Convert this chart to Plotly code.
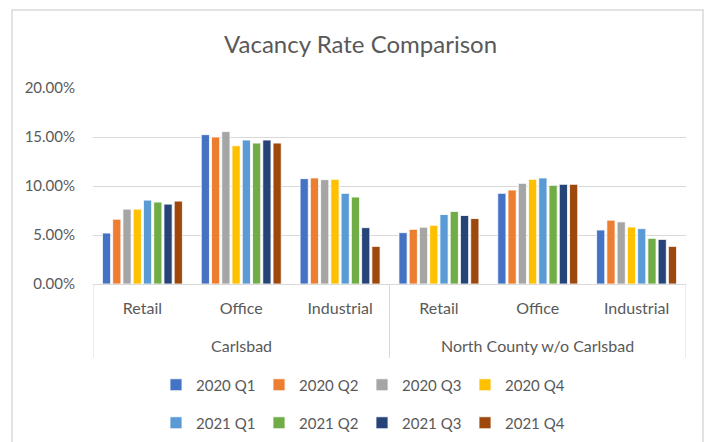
import plotly.graph_objects as go

regions = ["Carlsbad", "North County w/o Carlsbad"]
types = ["Retail", "Office", "Industrial"]
quarters = ["2020 Q1", "2020 Q2", "2020 Q3", "2020 Q4", "2021 Q1", "2021 Q2", "2021 Q3", "2021 Q4"]

# values per quarter: Carlsbad Retail, Office, Industrial, NC Retail, Office, Industrial
q2020_1 = [0.0520, 0.1524, 0.1075, 0.0524, 0.0925, 0.0551]
q2020_2 = [0.0661, 0.1500, 0.1082, 0.0558, 0.0959, 0.0651]
q2020_3 = [0.0764, 0.1555, 0.1065, 0.0579, 0.1027, 0.0634]
q2020_4 = [0.0764, 0.1411, 0.1068, 0.0599, 0.1068, 0.0582]
q2021_1 = [0.0856, 0.1469, 0.0925, 0.0709, 0.1082, 0.0565]
q2021_2 = [0.0836, 0.1438, 0.0887, 0.0740, 0.1007, 0.0466]
q2021_3 = [0.0815, 0.1469, 0.0575, 0.0699, 0.1017, 0.0455]
q2021_4 = [0.0846, 0.1438, 0.0384, 0.0668, 0.1017, 0.0384]

series = [q2020_1, q2020_2, q2020_3, q2020_4, q2021_1, q2021_2, q2021_3, q2021_4]
colors = ["#4472C4", "#ED7D31", "#A5A5A5", "#FFC000", "#5B9BD5", "#70AD47", "#264478", "#9E480E"]

inner_labels = [t for _ in regions for t in types]
xpos = list(range(len(inner_labels)))

FONT = "Lato"
TXT = "#595959"
GRID = "#d9d9d9"

fig = go.Figure()
for i, (name, vals, col) in enumerate(zip(quarters, series, colors)):
    fig.add_trace(go.Bar(x=xpos, y=vals, name=name,
                         legend="legend" if i < 4 else "legend2",
                         marker=dict(color=col, line=dict(color="white", width=0.8))))

W, H = 707, 442
L, R, T, B = 93, 21, 88, 158
pw, ph = W - L - R, H - T - B

def px_x(x):
    return (x - L) / pw

def px_y(y):
    return (H - B - y) / ph

leg_common = dict(orientation="h", xanchor="center", x=px_x(362), yanchor="middle",
                  entrywidth=58, entrywidthmode="pixels", itemwidth=30,
                  font=dict(size=15, color=TXT, family=FONT), bgcolor="rgba(0,0,0,0)")

n_per_region = len(types)
shapes = [dict(type="rect", xref="paper", yref="paper",
               x0=px_x(12), x1=px_x(703), y0=px_y(470), y1=px_y(10),
               line=dict(color=GRID, width=1.5), layer="below")]
for k in range(len(regions) + 1):
    xv = k * n_per_region - 0.5
    shapes.append(dict(type="line", xref="x", yref="paper", x0=xv, x1=xv,
                       y0=0, y1=px_y(358), line=dict(color=GRID, width=1)))

annotations = []
for k, r in enumerate(regions):
    annotations.append(dict(text=r, xref="x", yref="paper",
                            x=k * n_per_region + (n_per_region - 1) / 2,
                            y=px_y(345), yanchor="middle", showarrow=False,
                            font=dict(size=16, color=TXT, family=FONT)))

fig.update_layout(
    width=W, height=H,
    margin=dict(l=L, r=R, t=T, b=B, autoexpand=False),
    paper_bgcolor="white", plot_bgcolor="white",
    font=dict(family=FONT, color=TXT, size=15),
    title=dict(text="Vacancy Rate Comparison", x=0.51, xanchor="center",
               y=1 - 45 / H, yanchor="middle",
               font=dict(size=24, color=TXT, family=FONT)),
    barmode="group", bargap=0.17, bargroupgap=0.2,
    showlegend=True,
    legend=dict(leg_common, y=px_y(385)),
    legend2=dict(leg_common, y=px_y(423)),
    xaxis=dict(range=[-0.5, len(xpos) - 0.5], tickmode="array", tickvals=xpos,
               ticktext=inner_labels, showline=True, linecolor=GRID, linewidth=1,
               showgrid=False, zeroline=False,
               ticks="outside", ticklen=10, tickcolor="rgba(0,0,0,0)",
               tickfont=dict(size=16, color=TXT, family=FONT)),
    yaxis=dict(range=[0, 0.2], dtick=0.05, tickformat=".2%", showgrid=True,
               gridcolor=GRID, gridwidth=1, zeroline=False, showline=False,
               ticks="outside", ticklen=14, tickcolor="rgba(0,0,0,0)",
               tickfont=dict(size=15, color=TXT, family=FONT)),
    shapes=shapes,
    annotations=annotations,
)

fig.write_html("out.html", config={"displayModeBar": False},
               post_script="document.body.style.margin='0px';")
